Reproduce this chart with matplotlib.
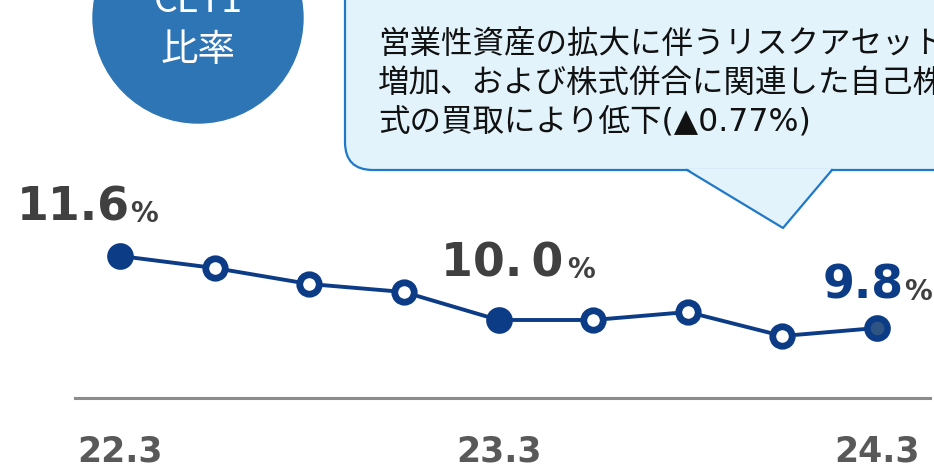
import matplotlib
matplotlib.use("Agg")
import matplotlib.pyplot as plt
from matplotlib.patches import Circle, FancyBboxPatch, Polygon

plt.rcParams['font.family'] = ['Noto Sans CJK JP', 'DejaVu Sans']

# data
periods = ['22.3', '22.6', '22.9', '22.12', '23.3', '23.6', '23.9', '23.12', '24.3']
cet1 = [11.6, 11.3, 10.9, 10.7, 10.0, 10.0, 10.2, 9.6, 9.8]
filled = [True, False, False, False, True, False, False, False, True]
tick_labels = {0: '22.3', 4: '23.3', 8: '24.3'}
note = ('営業性資産の拡大に伴うリスクアセットの\n'
        '増加、および株式併合に関連した自己株\n'
        '式の買取により低下(▲0.77%)')

blue = '#0d3c87'
gray = '#404040'

fig = plt.figure(figsize=(9.34, 4.70), dpi=100)
ax = fig.add_axes([0, 0, 1, 1])
ax.set_xlim(-1.268, 8.602)
ax.set_ylim(6.25, 18.0)
ax.axis('off')

x = list(range(len(cet1)))
ax.plot(x, cet1, color=blue, lw=2.8, zorder=2)
for i, v in enumerate(cet1):
    if filled[i]:
        fc = '#2d5482' if i == len(cet1) - 1 else blue
        ax.plot(i, v, 'o', ms=14.5, mfc=fc, mec=blue, mew=4.7, zorder=3)
    else:
        ax.plot(i, v, 'o', ms=14, mfc='white', mec=blue, mew=4.9, zorder=3)

# baseline
ax.plot([-0.476, 8.56], [8.05, 8.05], color='#8c8c8c', lw=2.2, zorder=1)

num_font = ['DejaVu Sans']
for i, lab in tick_labels.items():
    ax.text(i, 6.7, lab, ha='center', va='center', fontsize=25,
            fontweight='bold', color='#595959', family=num_font)

# value labels
def value_label(xi, yi, num, col, gap=0):
    t = ax.text(xi, yi, num, ha='left', va='baseline', fontsize=33,
                fontweight='bold', color=col, family=num_font)
    ax.annotate('%', xycoords=t, xy=(1, 0), xytext=(gap, 1.5),
                textcoords='offset points', ha='left', va='bottom',
                fontsize=20, fontweight='bold', color=gray, family=num_font)

value_label(-1.09, 12.49, '11.6', gray)
value_label(3.39, 11.09, '10.\u20090', gray, gap=3)
value_label(7.43, 10.54, '9.8', blue)

# decorations in pixel space
ov = fig.add_axes([0, 0, 1, 1])
ov.set_xlim(0, 934)
ov.set_ylim(470, 0)
ov.axis('off')
ov.patch.set_alpha(0)

ov.add_patch(Circle((198, 18), 105, color='#2e75b6', zorder=1))
ov.text(198, 2, 'CET1', ha='center', va='center', color='white', fontsize=27)
ov.text(198, 50, '比率', ha='center', va='center', color='white', fontsize=27)

bfill = '#e2f3fb'
bedge = '#1f78c8'
ov.add_patch(FancyBboxPatch((345, -60), 700, 230,
                            boxstyle='round,pad=0,rounding_size=28',
                            fc=bfill, ec=bedge, lw=1.6, zorder=1))
ov.add_patch(Polygon([(687, 168.5), (783, 228), (832, 168.5)], closed=True,
                     fc=bfill, ec='none', zorder=2))
ov.plot([687, 783, 832], [170, 228, 170], color=bedge, lw=1.6, zorder=3)
ov.text(378, 83, note, ha='left', va='center', fontsize=22.7,
        color='#111111', linespacing=1.33, zorder=4,
        family=['DejaVu Sans', 'Noto Sans CJK JP'])

fig.savefig('out.png', dpi=100)
